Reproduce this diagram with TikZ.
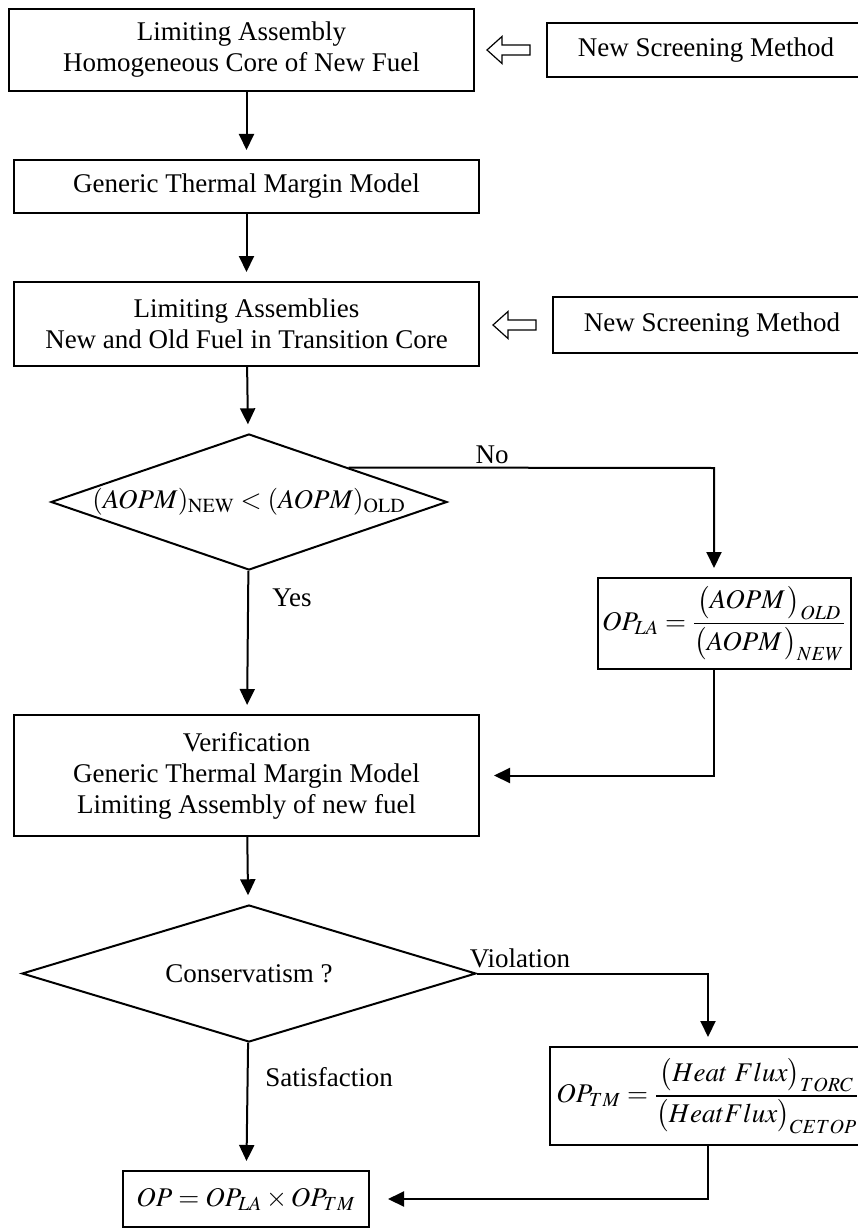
\documentclass[tikz,border=0pt]{standalone}
\usepackage{mathptmx}
\usepackage[no-math]{fontspec}
\setmainfont{Liberation Serif}
\usetikzlibrary{shapes.geometric,arrows.meta}

\begin{document}
\begin{tikzpicture}[x=0.5pt, y=-0.5pt,
    font=\fontsize{13.5}{15.5}\selectfont,
    process/.style ={rectangle, draw, line width=1pt, align=center, inner sep=0pt},
    decision/.style ={diamond, draw, line width=1pt, inner sep=0pt, aspect=3},
    flow/.style ={line width=1pt, -{Triangle[width=7.5pt,length=8pt]}, shorten >=4.5pt},
    hollow/.style ={draw, line width=0.6pt, line join=miter}]
   \useasboundingbox (0,0) rectangle (857,1230);

   % main chain
   \node[process, minimum width=232.5pt, minimum height=41pt] (lim1) at (241.5,50) {Limiting Assembly\\Homogeneous Core of New Fuel};
   \node[process, minimum width=232.5pt, minimum height=26.5pt] (gtmm) at (246.5,186.5) {Generic Thermal Margin Model};
   \node[process, minimum width=232.5pt, minimum height=42pt] (lim2) at (246.5,324) {Limiting Assemblies\\New and Old Fuel in Transition Core};
   \node[decision, minimum width=198pt, minimum height=68pt] (aopm) at (249,502) {$(AOPM)_{\mathrm{NEW}} < (AOPM)_{\mathrm{OLD}}$};
   \node[process, minimum width=232.5pt, minimum height=60.5pt] (verify) at (246.5,775.5) {Verification\\Generic Thermal Margin Model\\Limiting Assembly of new fuel};
   \node[decision, minimum width=227pt, minimum height=68.5pt] (cons) at (249,973.5) {Conservatism ?};
   \node[process, minimum width=123pt, minimum height=28pt] (final) at (246,1199) {$OP = OP_{LA}\times OP_{TM}$};

   % side boxes
   \node[process, minimum width=159pt, minimum height=27pt] (screen1) at (706,50) {New Screening Method};
   \node[process, minimum width=159pt, minimum height=28pt] (screen2) at (712,325) {New Screening Method};
   \node[process, minimum width=126.5pt, minimum height=45.5pt] (ratioLA) at (724.5,623.5) {$\displaystyle OP_{LA} = \frac{\bigl(AOPM\,\bigr)_{OLD}}{\bigl(AOPM\,\bigr)_{NEW}}$};
   \node[process, minimum width=158pt, minimum height=49pt] (ratioTM) at (708,1096) {$\displaystyle OP_{TM} = \frac{\bigl(Heat\ Flux\bigr)_{TORC}}{\bigl(HeatFlux\bigr)_{CETOP}}$};

   % hollow arrows
   \draw[hollow] (487,50) -- ++(15,-13.5) -- ++(0,8.5) -- ++(28,0) -- ++(0,10) -- ++(-28,0) -- ++(0,8.5) -- cycle;
   \draw[hollow] (493,325) -- ++(15,-13.5) -- ++(0,8.5) -- ++(28,0) -- ++(0,10) -- ++(-28,0) -- ++(0,8.5) -- cycle;

   % labels
   \node (no) at (492,455) {No};
   \node (yes) at (292,598) {Yes};
   \node (viol) at (520,958) {Violation};
   \node (sat) at (329,1077) {Satisfaction};

   \coordinate (noturn) at (714,468);

   \draw[flow] (lim1.south -| gtmm.north) -- (gtmm.north);
   \draw[flow] (gtmm) -- (lim2);
   \draw[flow] (lim2) -- (aopm);
   \draw[flow] (aopm) -- (verify);
   \draw[flow] (verify) -- (cons);
   \draw[flow] (cons) -- (final);

   \draw[flow] (aopm.north east) -- (noturn) -- (noturn |- ratioLA.north);
   \draw[flow, shorten >=7pt] (ratioLA.south -| noturn) |- (verify.east);
   \draw[flow] (cons.east) -| (ratioTM.north);
   \draw[flow, shorten >=9pt] (ratioTM.south) |- (final.east);

\end{tikzpicture}
\end{document}
